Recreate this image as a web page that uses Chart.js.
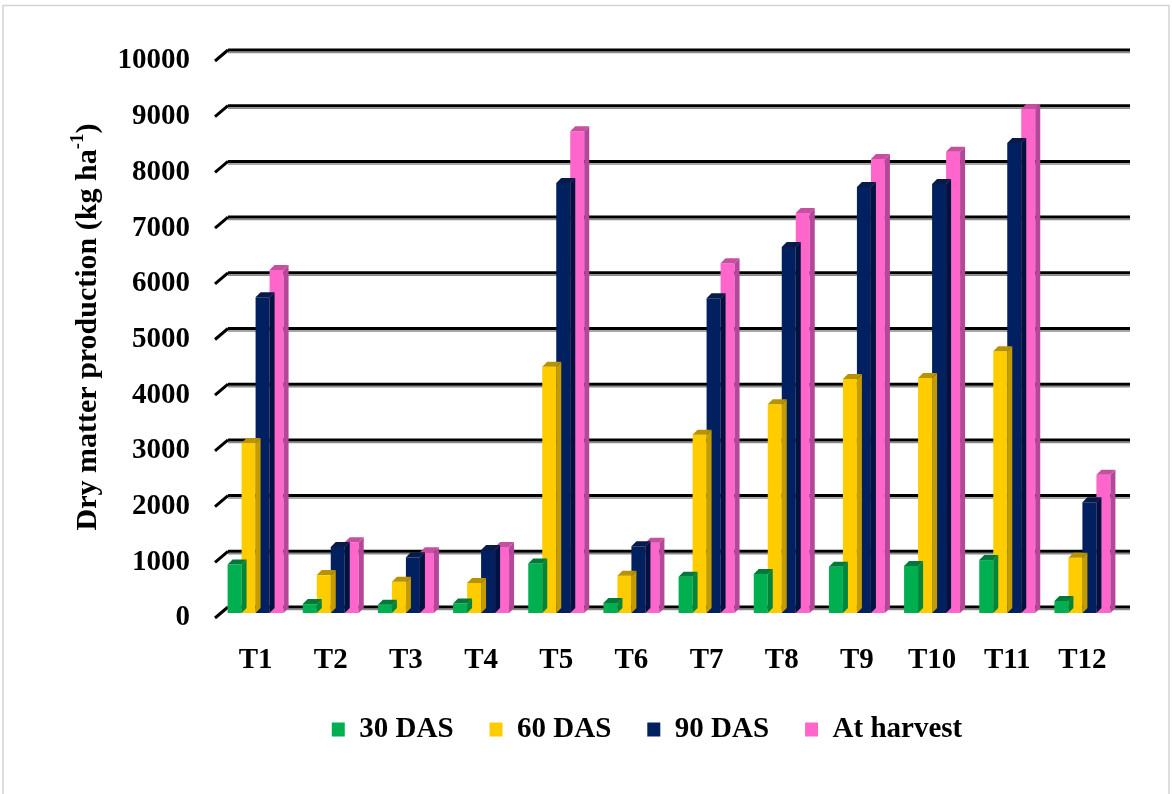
<!DOCTYPE html>
<html>
<head>
<meta charset="utf-8">
<script src="https://cdn.jsdelivr.net/npm/chart.js@4.4.1/dist/chart.umd.min.js"></script>
<style>
  html, body { margin: 0; padding: 0; background: #fff; }
  #wrap { width: 1172px; height: 794px; }
</style>
</head>
<body>
<div id="wrap"><canvas id="chart" width="1172" height="794"></canvas></div>
<script>
// chart data
const categories = ['T1', 'T2', 'T3', 'T4', 'T5', 'T6', 'T7', 'T8', 'T9', 'T10', 'T11', 'T12'];
const das30 = [870, 160, 150, 170, 890, 180, 650, 700, 830, 845, 950, 215];
const das60 = [3050, 680, 560, 540, 4420, 670, 3200, 3750, 4200, 4220, 4700, 990];
const das90 = [5670, 1185, 1000, 1130, 7720, 1200, 5650, 6570, 7650, 7700, 8440, 1990];
const atHarvest = [6160, 1270, 1090, 1185, 8650, 1260, 6280, 7180, 8150, 8280, 9050, 2480];
const yTicks = [0, 1000, 2000, 3000, 4000, 5000, 6000, 7000, 8000, 9000, 10000];

const fontFamily = '"Liberation Serif", "Times New Roman", serif';
const sideColors = ['#00853d', '#c49c00', '#00123d', '#b5479a'];
const topColors = ['#00783a', '#b89300', '#0a1a48', '#c4509f'];

// back wall offset of the 3D look
const wallDx = 10, wallDy = -6;

// fake 3D faces on each bar
const bars3d = {
    id: 'bars3d',
    afterDatasetDraw(chart, args) {
        const ctx = chart.ctx;
        const d = 5;
        const i = args.index;
        args.meta.data.forEach(bar => {
            const p = bar.getProps(['x', 'y', 'base', 'width'], true);
            const l = p.x - p.width / 2, r = p.x + p.width / 2;
            ctx.save();
            ctx.fillStyle = sideColors[i];
            ctx.beginPath();
            ctx.moveTo(r, p.y);
            ctx.lineTo(r + d, p.y - d);
            ctx.lineTo(r + d, p.base - d);
            ctx.lineTo(r, p.base);
            ctx.closePath();
            ctx.fill();
            ctx.fillStyle = topColors[i];
            ctx.beginPath();
            ctx.moveTo(l, p.y);
            ctx.lineTo(l + d, p.y - d);
            ctx.lineTo(r + d, p.y - d);
            ctx.lineTo(r, p.y);
            ctx.closePath();
            ctx.fill();
            ctx.restore();
        });
    }
};

// border, back-wall gridlines, diagonal stubs and the y title with superscript
const decor = {
    id: 'decor',
    afterLayout(chart) {
        // legend sits a bit right of the canvas centre
        chart.legend.left += 51;
        chart.legend.right += 51;
    },
    beforeDraw(chart) {
        const ctx = chart.ctx;
        ctx.save();
        ctx.fillStyle = '#fff';
        ctx.fillRect(0, 0, chart.width, chart.height);
        ctx.strokeStyle = '#d4d4d4';
        ctx.lineWidth = 1.5;
        ctx.strokeRect(3, 5.5, 1166, 800);
        ctx.restore();
    },
    beforeDatasetsDraw(chart) {
        const ctx = chart.ctx;
        const y = chart.scales.y;
        const a = chart.chartArea;
        ctx.save();
        yTicks.forEach(v => {
            const py = y.getPixelForValue(v) + wallDy;
            ctx.strokeStyle = '#8a8a8a';
            ctx.lineWidth = 1.5;
            ctx.beginPath();
            ctx.moveTo(a.left + wallDx, py + 2.5);
            ctx.lineTo(a.right + wallDx, py + 2.5);
            ctx.stroke();
            ctx.strokeStyle = '#000';
            ctx.lineWidth = 3;
            ctx.beginPath();
            ctx.moveTo(a.left + wallDx, py);
            ctx.lineTo(a.right + wallDx, py);
            ctx.stroke();
            ctx.beginPath();
            ctx.moveTo(a.left - 3, py - wallDy + 5);
            ctx.lineTo(a.left + wallDx, py);
            ctx.stroke();
        });
        ctx.restore();
    },
    afterDraw(chart) {
        const ctx = chart.ctx;
        ctx.save();
        ctx.translate(88, 327);
        ctx.rotate(-Math.PI / 2);
        ctx.fillStyle = '#000';
        ctx.textBaseline = 'middle';
        const main = 'Dry matter production (kg ha';
        const sup = '-1';
        const end = ')';
        ctx.font = 'bold 30px ' + fontFamily;
        const w1 = ctx.measureText(main).width;
        const w3 = ctx.measureText(end).width;
        ctx.font = 'bold 19px ' + fontFamily;
        const w2 = ctx.measureText(sup).width;
        let x = -(w1 + w2 + w3) / 2;
        ctx.font = 'bold 30px ' + fontFamily;
        ctx.fillText(main, x, 0);
        x += w1;
        ctx.font = 'bold 19px ' + fontFamily;
        ctx.fillText(sup, x, -10);
        x += w2;
        ctx.font = 'bold 30px ' + fontFamily;
        ctx.fillText(end, x, 0);
        ctx.restore();
    }
};

function makeDataset(label, data, color) {
    return {
        label: label,
        data: data,
        backgroundColor: color,
        borderWidth: 0,
        categoryPercentage: 0.745,
        barPercentage: 1.0
    };
}

document.addEventListener('DOMContentLoaded', () => {
    const ctx = document.getElementById('chart');
    new Chart(ctx, {
        type: 'bar',
        data: {
            labels: categories,
            datasets: [
                makeDataset('30 DAS', das30, '#00b050'),
                makeDataset('60 DAS', das60, '#ffcc00'),
                makeDataset('90 DAS', das90, '#002060'),
                makeDataset('At harvest', atHarvest, '#ff66cc')
            ]
        },
        options: {
            responsive: false,
            animation: false,
            layout: { padding: { left: 72, right: 52, top: 56, bottom: 40 } },
            plugins: {
                legend: {
                    position: 'bottom',
                    labels: {
                        color: '#000',
                        font: { family: fontFamily, size: 29, weight: 'bold' },
                        boxWidth: 13,
                        boxHeight: 14,
                        padding: 36
                    }
                },
                tooltip: { enabled: false }
            },
            scales: {
                x: {
                    grid: { display: false, drawTicks: false },
                    border: { display: false },
                    ticks: {
                        color: '#000',
                        padding: 30,
                        font: { family: fontFamily, size: 29, weight: 'bold' }
                    },
                    afterFit(s) { s.height = 66; }
                },
                y: {
                    min: 0,
                    max: 10000,
                    afterBuildTicks(s) { s.ticks = yTicks.map(v => ({ value: v })); },
                    grid: { display: false, drawTicks: false },
                    border: { display: false },
                    ticks: {
                        color: '#000',
                        padding: 28,
                        labelOffset: 5,
                        callback: v => String(v),
                        font: { family: fontFamily, size: 29, weight: 'bold' }
                    },
                    afterFit(s) { s.width = 146; }
                }
            }
        },
        plugins: [decor, bars3d]
    });
});
</script>
</body>
</html>
